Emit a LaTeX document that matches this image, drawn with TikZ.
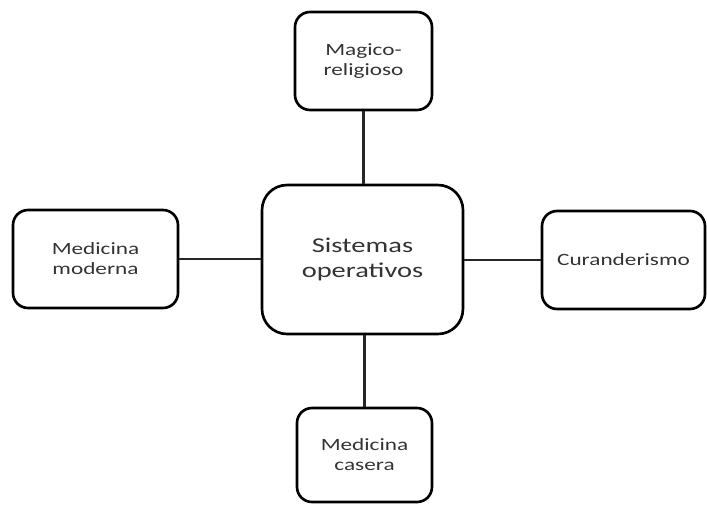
\documentclass[tikz,border=0pt]{standalone}
\usepackage{fontspec}
\setmainfont[FakeStretch=1.35]{Carlito}
\begin{document}
\begin{tikzpicture}[x=0.02cm,y=-0.02cm,
    box/.style={draw,line width=1.5pt,rounded corners=0.3cm,align=center,
        font=\fontsize{9.8}{11.4}\selectfont,text=black!80},
    link/.style={line width=1.4pt,black!85}]
    \useasboundingbox (0,0) rectangle (707,505);

    % center
    \node[box,rounded corners=0.5cm,minimum width=4.02cm,minimum height=2.98cm,
        font=\fontsize{12}{14.2}\selectfont] (sistemas) at (362.5,259.5) {Sistemas\\operativos};

    % outer boxes
    \node[box,minimum width=2.74cm,minimum height=1.96cm] (magico) at (363.5,61) {Magico-\\religioso};
    \node[box,minimum width=3.3cm,minimum height=1.96cm] (moderna) at (95.5,259) {Medicina\\moderna};
    \node[box,minimum width=3.26cm,minimum height=1.96cm] (curanderismo) at (623.5,260) {Curanderismo};
    \node[box,minimum width=2.7cm,minimum height=1.88cm] (casera) at (364.5,455) {Medicina\\casera};

    % links
    \draw[link] (magico.south) -- (magico.south |- sistemas.north);
    \draw[link] (casera.north) -- (casera.north |- sistemas.south);
    \draw[link] (moderna.east) -- (moderna.east -| sistemas.west);
    \draw[link] (curanderismo.west) -- (curanderismo.west -| sistemas.east);
\end{tikzpicture}
\end{document}
